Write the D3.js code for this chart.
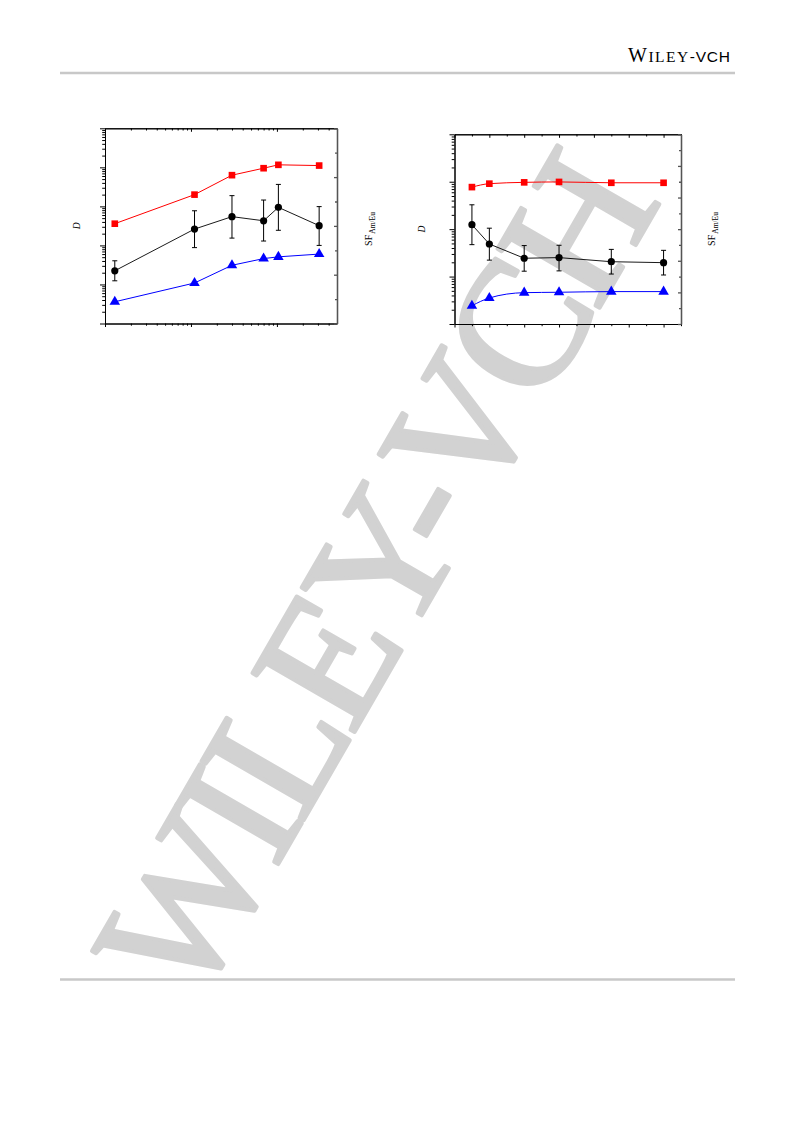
<!DOCTYPE html>
<html>
<head>
<meta charset="utf-8">
<script src="https://cdn.jsdelivr.net/npm/d3@7"></script>
<style>
  html, body { margin: 0; padding: 0; background: #fff; }
  svg { display: block; }
</style>
</head>
<body>
<svg id="page" width="793" height="1121"></svg>
<script>
// ---------- DATA (tick labels are absent in the original) ----------
// Left panel (log x axis)
const leftX      = [0.13, 1.1, 3.0, 7.0, 10.4, 31];
const leftDAm    = [3.6, 20, 63, 95, 116, 111];
const leftDEu    = [0.036, 0.109, 0.31, 0.46, 0.51, 0.60];
const leftSF     = [2.16, 3.87, 4.38, 4.21, 4.76, 4.01];
const leftSFLo   = [1.75, 3.11, 3.50, 3.38, 3.82, 3.20];
const leftSFHi   = [2.57, 4.62, 5.24, 5.06, 5.70, 4.79];
const leftXDomain  = [0.1, 50];
const leftDDomain  = [0.01, 1000];
const leftSFDomain = [0, 8];

// Right panel (linear x axis)
const rightX     = [0.5, 1, 2, 3, 4.5, 6];
const rightDAm   = [77, 91, 97, 99, 95, 95];
const rightDEu   = [0.243, 0.354, 0.458, 0.467, 0.482, 0.482];
const rightSF    = [3.14, 2.53, 2.08, 2.10, 1.97, 1.94];
const rightSFLo  = [2.51, 2.02, 1.67, 1.68, 1.58, 1.55];
const rightSFHi  = [3.77, 3.03, 2.48, 2.49, 2.36, 2.33];
const rightXDomain  = [0, 6.5];
const rightDDomain  = [0.1, 1000];
const rightSFDomain = [0, 6];

const axisLabelD  = "D";
const axisLabelSF = "SF";
const axisLabelSFSub = "Am/Eu";
const headerText = ["W", "ILEY", "-VCH"];
const watermarkText = "WILEY-VCH";

// ---------- DRAWING ----------
const svg = d3.select("#page");

// watermark (behind everything)
svg.append("text")
  .attr("transform", "translate(194,1010) rotate(-60)")
  .attr("font-family", "'Liberation Serif','Times New Roman',serif")
  .attr("font-size", 180)
  .attr("letter-spacing", -8)
  .attr("fill", "#d2d2d2")
  .attr("stroke", "#d2d2d2")
  .attr("stroke-width", 4)
  .attr("stroke-linejoin", "round")
  .text(watermarkText);

// header
const hdr = svg.append("text")
  .attr("x", 628).attr("y", 62)
  .attr("fill", "#000");
hdr.append("tspan").attr("font-family", "'Liberation Serif',serif").attr("font-size", 20).attr("letter-spacing", 1.5).text(headerText[0]);
hdr.append("tspan").attr("font-family", "'Liberation Serif',serif").attr("font-size", 15.5).attr("letter-spacing", 1.5).text(headerText[1]);
hdr.append("tspan").attr("font-family", "'Liberation Sans',Arial,sans-serif").attr("font-size", 15.5).attr("letter-spacing", 0.8).text(headerText[2]);

svg.append("line").attr("x1", 60).attr("x2", 735).attr("y1", 73).attr("y2", 73)
  .attr("stroke", "#c8c8c8").attr("stroke-width", 2.5);
svg.append("line").attr("x1", 60).attr("x2", 735).attr("y1", 979.5).attr("y2", 979.5)
  .attr("stroke", "#c8c8c8").attr("stroke-width", 2.5);

function logMinors(domain) {
  const out = [];
  const lo = Math.floor(Math.log10(domain[0])), hi = Math.ceil(Math.log10(domain[1]));
  for (let e = lo; e <= hi; e++) {
    for (let m = 2; m <= 9; m++) {
      const v = m * Math.pow(10, e);
      if (v > domain[0] && v < domain[1]) out.push(v);
    }
  }
  return out;
}
function logMajors(domain) {
  const out = [];
  const lo = Math.ceil(Math.log10(domain[0]) - 1e-9), hi = Math.floor(Math.log10(domain[1]) + 1e-9);
  for (let e = lo; e <= hi; e++) out.push(Math.pow(10, e));
  return out;
}
function linTicks(domain, step) {
  const out = [];
  for (let v = domain[0]; v <= domain[1] + 1e-9; v += step) out.push(+v.toFixed(6));
  return out;
}

function drawPanel(cfg) {
  const g = svg.append("g").attr("transform", `translate(${cfg.left},${cfg.top})`);
  const w = cfg.width, h = cfg.height;
  const x = cfg.xLog ? d3.scaleLog().domain(cfg.xDomain).range([0, w])
                     : d3.scaleLinear().domain(cfg.xDomain).range([0, w]);
  const yD = d3.scaleLog().domain(cfg.dDomain).range([h, 0]);
  const yS = d3.scaleLinear().domain(cfg.sfDomain).range([h, 0]);

  let xMaj, xMin;
  if (cfg.xLog) { xMaj = logMajors(cfg.xDomain); xMin = logMinors(cfg.xDomain); }
  else {
    xMaj = linTicks(cfg.xDomain, 1);
    xMin = linTicks(cfg.xDomain, 0.5).filter(v => !xMaj.includes(v));
  }
  const dMaj = logMajors(cfg.dDomain), dMin = logMinors(cfg.dDomain);
  const sMaj = linTicks(cfg.sfDomain, cfg.sfMajor);
  const sMin = linTicks(cfg.sfDomain, cfg.sfMajor / 2).filter(v => !sMaj.some(m => Math.abs(m - v) < 1e-9));

  function ax(gen, vals, size, transform, color, sw) {
    const a = gen.tickValues(vals).tickSize(size).tickSizeOuter(0).tickFormat("");
    const sel = g.append("g").attr("transform", transform || null).call(a);
    sel.selectAll("line").attr("stroke", color).attr("stroke-width", sw);
    sel.select(".domain").attr("stroke", color).attr("stroke-width", sw);
    return sel;
  }
  ax(d3.axisBottom(x), xMaj, 3.5, `translate(0,${h})`, "#000", 1);
  ax(d3.axisBottom(x), xMin, 2.2, `translate(0,${h})`, "#000", 1);
  ax(d3.axisTop(x), xMaj, -3.5, null, "#000", 1);
  ax(d3.axisTop(x), xMin, -2.2, null, "#000", 1);
  ax(d3.axisLeft(yD), dMaj, 5, null, "#000", 1);
  ax(d3.axisLeft(yD), dMin, 2.8, null, "#000", 1);
  ax(d3.axisRight(yS), sMaj, -3, `translate(${w},0)`, "#555", 1.3);
  ax(d3.axisRight(yS), sMin, -2, `translate(${w},0)`, "#555", 1.3);

  const curve = cfg.smooth ? d3.curveMonotoneX : d3.curveLinear;

  const amPts = cfg.xs.map((v, i) => [x(v), yD(cfg.am[i])]);
  g.append("path").attr("d", d3.line().curve(curve)(amPts))
    .attr("fill", "none").attr("stroke", "#ff0000").attr("stroke-width", 1);
  g.selectAll(".am").data(amPts).join("path")
    .attr("transform", d => `translate(${d[0]},${d[1]})`)
    .attr("d", d3.symbol().type(d3.symbolSquare).size(44)())
    .attr("fill", "#ff0000");

  const euPts = cfg.xs.map((v, i) => [x(v), yD(cfg.eu[i])]);
  g.append("path").attr("d", d3.line().curve(curve)(euPts))
    .attr("fill", "none").attr("stroke", "#0000ff").attr("stroke-width", 1);
  g.selectAll(".eu").data(euPts).join("path")
    .attr("transform", d => `translate(${d[0]},${d[1]})`)
    .attr("d", d3.symbol().type(d3.symbolTriangle).size(48)())
    .attr("fill", "#0000ff");

  const sfPts = cfg.xs.map((v, i) => [x(v), yS(cfg.sf[i])]);
  g.append("path").attr("d", d3.line()(sfPts))
    .attr("fill", "none").attr("stroke", "#000").attr("stroke-width", 0.9);
  cfg.xs.forEach((v, i) => {
    const cx = x(v), y1 = yS(cfg.sfLo[i]), y2 = yS(cfg.sfHi[i]);
    g.append("line").attr("x1", cx).attr("x2", cx).attr("y1", y1).attr("y2", y2)
      .attr("stroke", "#000").attr("stroke-width", 1);
    [y1, y2].forEach(yy => g.append("line").attr("x1", cx - 2.5).attr("x2", cx + 2.5)
      .attr("y1", yy).attr("y2", yy).attr("stroke", "#000").attr("stroke-width", 1));
  });
  g.selectAll(".sf").data(sfPts).join("circle")
    .attr("cx", d => d[0]).attr("cy", d => d[1]).attr("r", 3.6).attr("fill", "#000");

  svg.append("text")
    .attr("transform", `translate(${cfg.dLabelX},${cfg.top + h / 2}) rotate(-90)`)
    .attr("text-anchor", "middle")
    .attr("font-family", "'Liberation Serif',serif").attr("font-style", "italic")
    .attr("font-size", 9.5).text(axisLabelD);
  const sfT = svg.append("text")
    .attr("transform", `translate(${cfg.sfLabelX},${cfg.sfLabelY}) rotate(-90)`)
    .attr("text-anchor", "middle")
    .attr("font-family", "'Liberation Serif',serif").attr("font-size", 10);
  sfT.append("tspan").text(axisLabelSF);
  sfT.append("tspan").attr("dy", 2.5).attr("dx", 1).attr("font-size", 7.5).text(axisLabelSFSub);
}

drawPanel({
  left: 105, top: 128.3, width: 232, height: 195.2,
  xLog: true, xDomain: leftXDomain, dDomain: leftDDomain, sfDomain: leftSFDomain, sfMajor: 2,
  xs: leftX, am: leftDAm, eu: leftDEu, sf: leftSF, sfLo: leftSFLo, sfHi: leftSFHi,
  smooth: false, dLabelX: 80, sfLabelX: 372, sfLabelY: 229
});

drawPanel({
  left: 454.5, top: 134.3, width: 226.5, height: 189.7,
  xLog: false, xDomain: rightXDomain, dDomain: rightDDomain, sfDomain: rightSFDomain, sfMajor: 1,
  xs: rightX, am: rightDAm, eu: rightDEu, sf: rightSF, sfLo: rightSFLo, sfHi: rightSFHi,
  smooth: true, dLabelX: 425, sfLabelX: 715, sfLabelY: 229
});
</script>
</body>
</html>
